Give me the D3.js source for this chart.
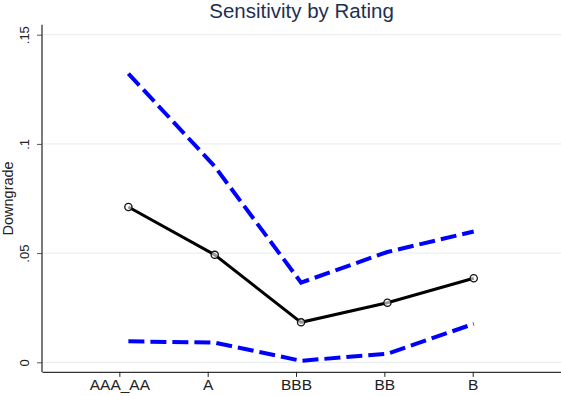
<!DOCTYPE html>
<html>
<head>
<meta charset="utf-8">
<script src="https://cdn.jsdelivr.net/npm/d3@7"></script>
<style>
  body { margin: 0; background: #fff; }
  text { font-family: "Liberation Sans", Arial, sans-serif; }
</style>
</head>
<body>
<div id="chart"></div>
<script>
var ratings = ["AAA_AA", "A", "BBB", "BB", "B"]
var estimate = [0.0711, 0.0492, 0.0183, 0.0273, 0.0385]
var upper = [0.1322, 0.0897, 0.0365, 0.0505, 0.0599]
var lower = [0.0096, 0.0090, 0.0007, 0.0039, 0.0176]
var yTicks = [0, 0.05, 0.1, 0.15]
var yTickLabels = ["0", ".05", ".1", ".15"]

var width = 561
var height = 396

var svg = d3.select("#chart")
  .append("svg")
  .attr("width", width)
  .attr("height", height)

// category ticks sit at 1..5
var x = d3.scaleLinear()
  .domain([0.124, 6])
  .range([42, 561])

// the plotted lines are a little shifted from the ticks in the original
var xPt = d3.scaleLinear()
  .domain([1, 5])
  .range([x(1.102), x(5.012)])

var y = d3.scaleLinear()
  .domain([0, 0.15])
  .range([362.3, 34.7])

// gridlines
svg.append("g")
  .selectAll("line")
  .data(yTicks)
  .enter().append("line")
  .attr("x1", x.range()[0])
  .attr("x2", x.range()[1])
  .attr("y1", function(d) { return y(d) })
  .attr("y2", function(d) { return y(d) })
  .attr("stroke", "#eaf0f0")
  .attr("stroke-width", 1.2)

// y axis
var yAxis = d3.axisLeft(y)
  .tickValues(yTicks)
  .tickFormat(function(d, i) { return yTickLabels[i] })
  .tickSize(5)
  .tickSizeOuter(0)

var gy = svg.append("g")
  .attr("transform", "translate(" + x.range()[0] + ",0)")
  .call(yAxis)
gy.select(".domain").remove()
gy.selectAll(".tick line").attr("stroke", "#555")
gy.selectAll(".tick text")
  .attr("font-size", 13)
  .attr("fill", "#222")
  .attr("text-anchor", "middle")
  .attr("x", 0)
  .attr("dy", 0)
  .attr("transform", "translate(-13,0) rotate(-90)")

gy.append("line")
  .attr("y1", y(-0.0044))
  .attr("y2", y(0.1545))
  .attr("stroke", "#333")
  .attr("stroke-width", 1.3)

// x axis
var xAxis = d3.axisBottom(x)
  .tickValues([1, 2, 3, 4, 5])
  .tickFormat(function(d) { return ratings[d - 1] })
  .tickSize(5)
  .tickSizeOuter(0)

var gx = svg.append("g")
  .attr("transform", "translate(0," + y(-0.0044) + ")")
  .call(xAxis)
gx.select(".domain").attr("stroke", "#333").attr("stroke-width", 1.3)
gx.selectAll(".tick line").attr("stroke", "#222")
gx.selectAll(".tick text")
  .attr("font-size", 15.5)
  .attr("fill", "#222")
  .attr("y", 7)

// lines
var line = d3.line()
  .x(function(d, i) { return xPt(i + 1) })
  .y(function(d) { return y(d) })

svg.append("path")
  .datum(upper)
  .attr("d", line)
  .attr("fill", "none")
  .attr("stroke", "#0000ff")
  .attr("stroke-width", 4)
  .attr("stroke-dasharray", "16,6")

svg.append("path")
  .datum(lower)
  .attr("d", line)
  .attr("fill", "none")
  .attr("stroke", "#0000ff")
  .attr("stroke-width", 4)
  .attr("stroke-dasharray", "16,6")

svg.append("path")
  .datum(estimate)
  .attr("d", line)
  .attr("fill", "none")
  .attr("stroke", "#000")
  .attr("stroke-width", 3)

svg.append("g")
  .selectAll("circle")
  .data(estimate)
  .enter().append("circle")
  .attr("cx", function(d, i) { return xPt(i + 1) })
  .attr("cy", function(d) { return y(d) })
  .attr("r", 3.6)
  .attr("fill", "#fff")
  .attr("fill-opacity", 0.6)
  .attr("stroke", "#111")
  .attr("stroke-width", 1.3)

// titles
svg.append("text")
  .attr("x", (x.range()[0] + x.range()[1]) / 2)
  .attr("y", 18)
  .attr("text-anchor", "middle")
  .attr("font-size", 20.5)
  .attr("fill", "#1e2f52")
  .text("Sensitivity by Rating")

svg.append("text")
  .attr("transform", "translate(13," + ((y(0.1545) + y(-0.0044)) / 2) + ") rotate(-90)")
  .attr("text-anchor", "middle")
  .attr("font-size", 14.5)
  .attr("fill", "#222")
  .text("Downgrade")
</script>
</body>
</html>
